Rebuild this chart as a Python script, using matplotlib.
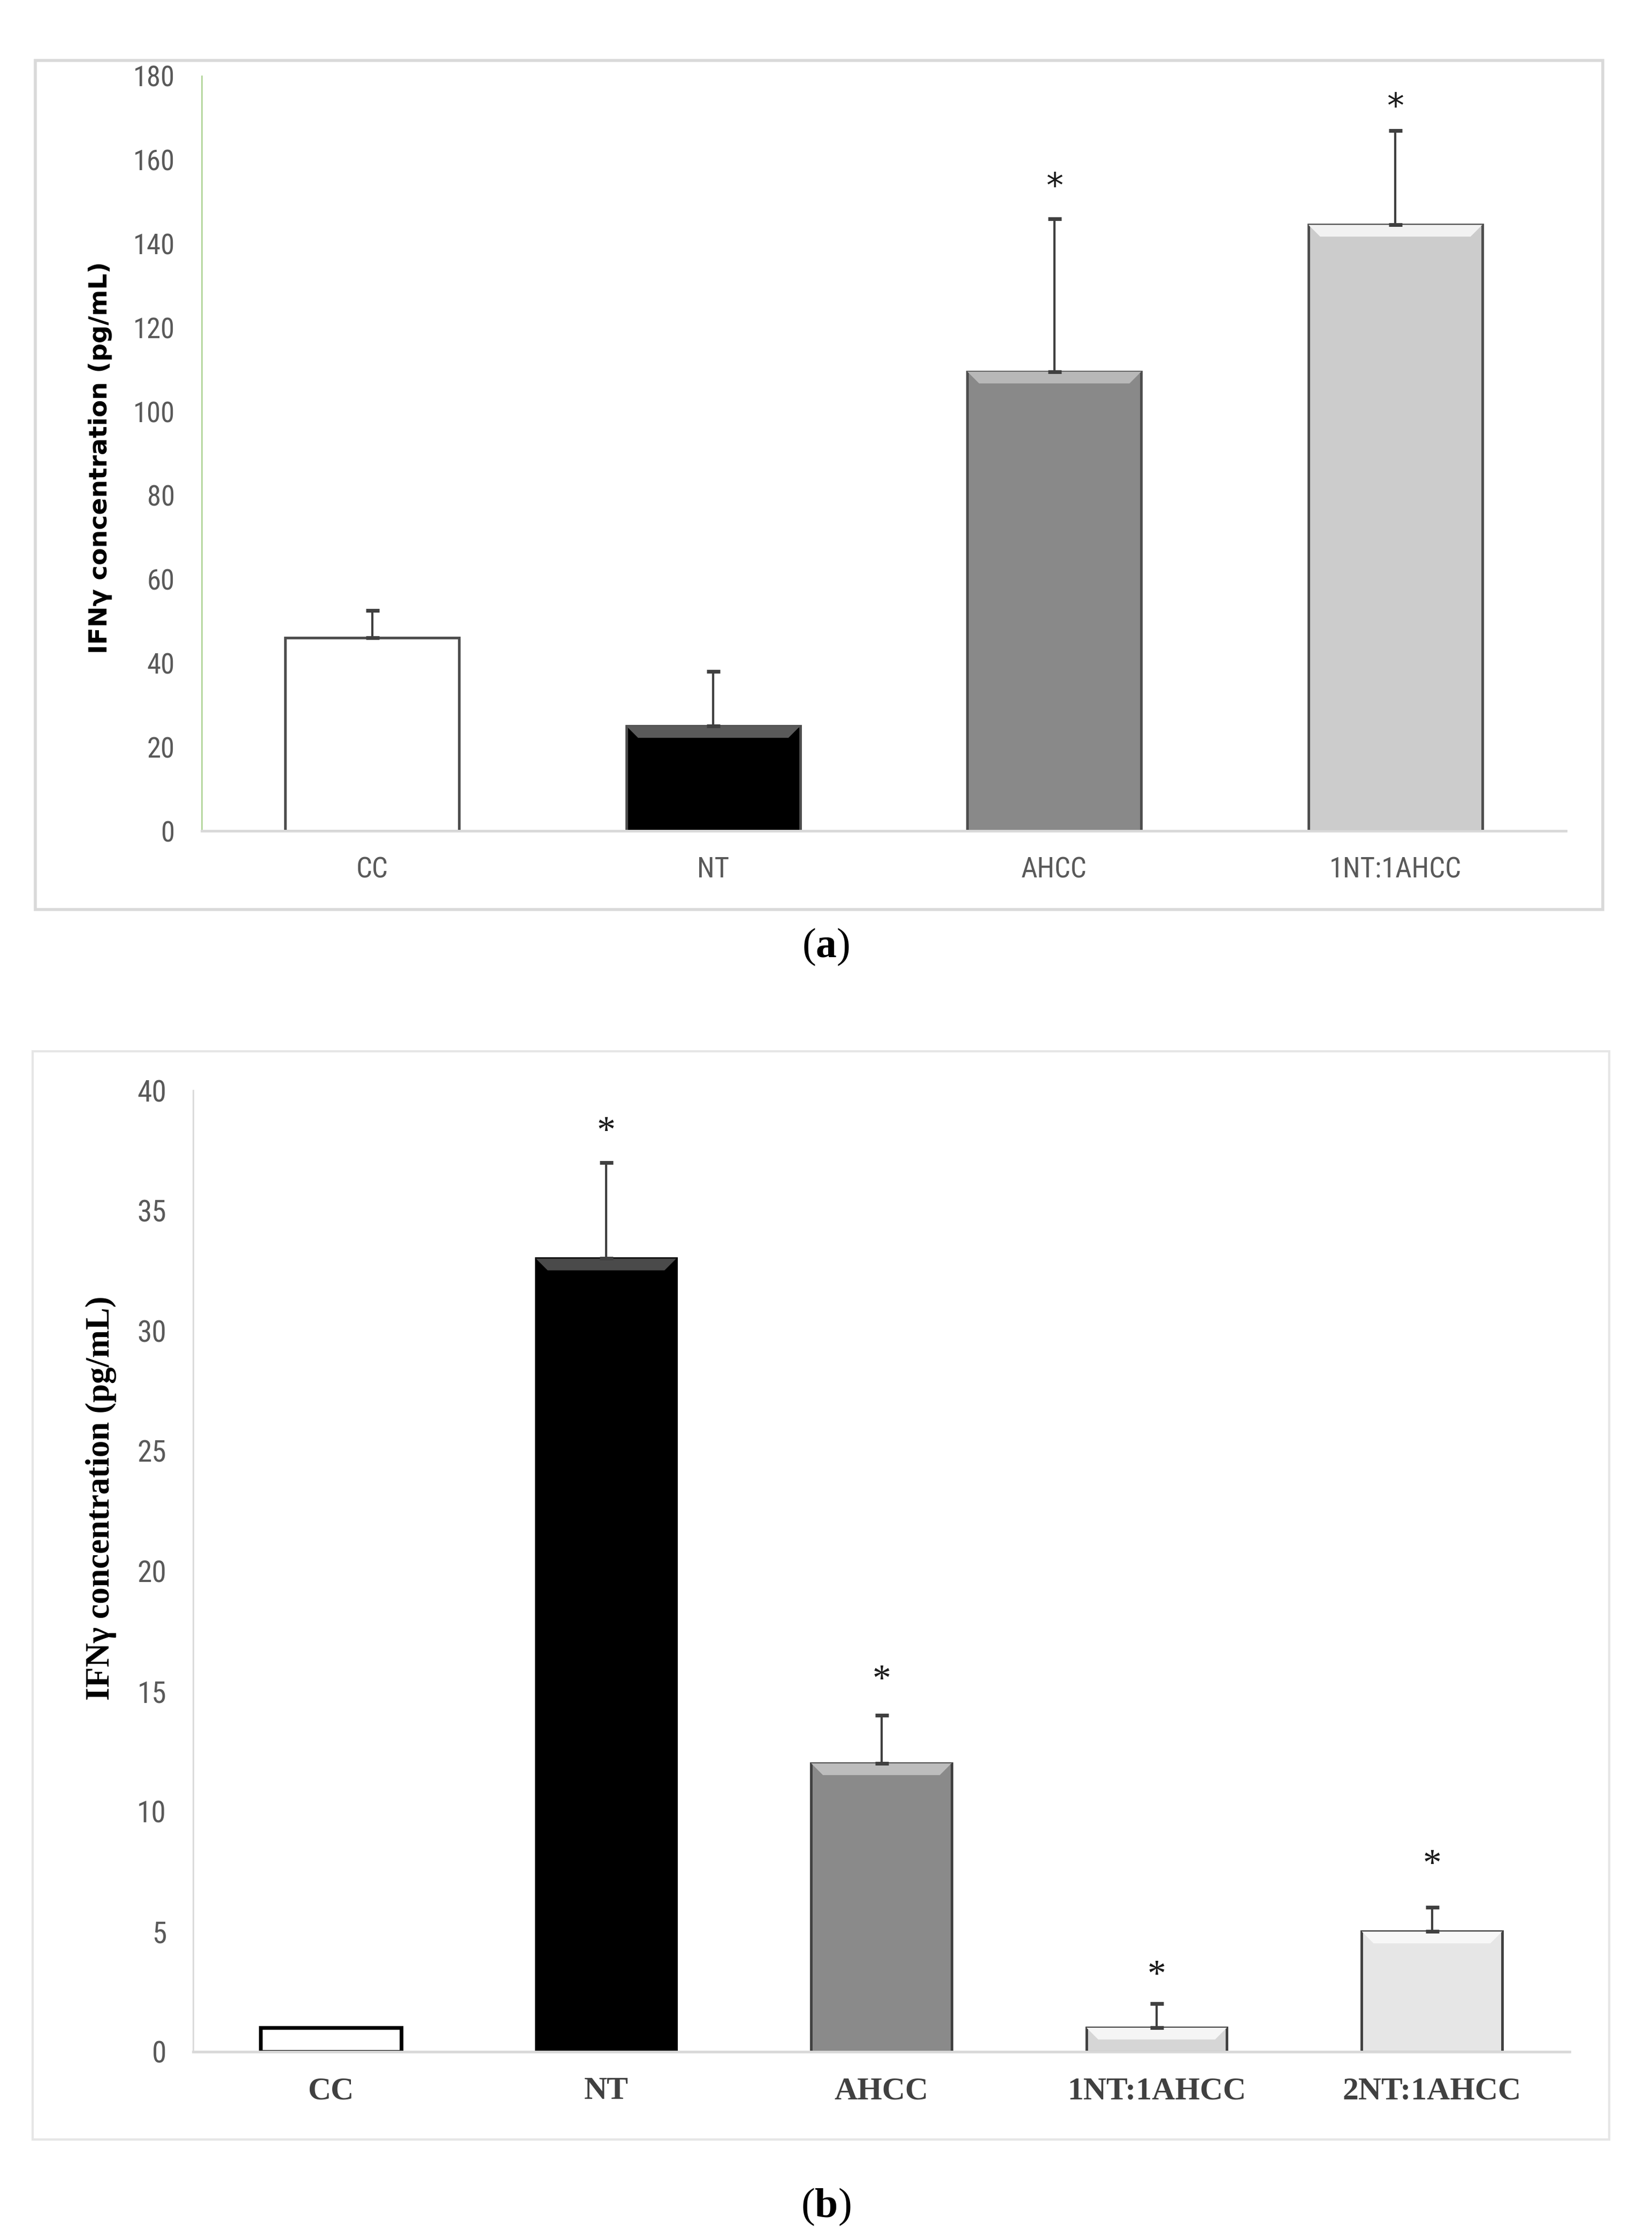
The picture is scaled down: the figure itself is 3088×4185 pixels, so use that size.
import numpy as np
import matplotlib
matplotlib.use("Agg")
import matplotlib.pyplot as plt
from matplotlib import font_manager
from matplotlib.patches import Rectangle, Polygon

# panel (a)
groups_a = ["CC", "NT", "AHCC", "1NT:1AHCC"]
ifn_a = [46, 25, 109.5, 144.5]
err_a = [6.5, 13, 36.5, 22.5]
star_a = [None, None, 156, 175]
colors_a = ["#ffffff", "#000000", "#898989", "#cccccc"]
bevel_a = ["#ffffff", "#5a5a5a", "#b8b8b8", "#f2f2f2"]

# panel (b)
groups_b = ["CC", "NT", "AHCC", "1NT:1AHCC", "2NT:1AHCC"]
ifn_b = [1, 33, 12, 1, 5]
err_b = [0, 4, 2, 1, 1]
star_b = [None, 38.6, 15.8, 3.5, 8.1]
colors_b = ["#ffffff", "#000000", "#8a8a8a", "#d6d6d6", "#e6e6e6"]
bevel_b = ["#ffffff", "#4a4a4a", "#bdbdbd", "#f5f5f5", "#f7f7f7"]


def pick(names):
    for n in names:
        try:
            font_manager.findfont(font_manager.FontProperties(family=n), fallback_to_default=False)
            return n
        except Exception:
            pass
    return "DejaVu Sans"

narrow = pick(["Liberation Sans Narrow", "Roboto Condensed", "Liberation Sans"])
serif = pick(["Liberation Serif", "DejaVu Serif"])

plt.rcParams["mathtext.fontset"] = "custom"
plt.rcParams["mathtext.rm"] = serif
plt.rcParams["mathtext.bf"] = serif + ":bold"

W, H = 3088, 4185
fig = plt.figure(figsize=(W / 100, H / 100), dpi=100)


def fx(px):
    return px / W


def fy(py):
    return 1 - py / H


def frame(x0, y0, x1, y1, col, lw):
    fig.patches.append(Rectangle((fx(x0), fy(y1)), fx(x1 - x0), fy(y0) - fy(y1),
                                 transform=fig.transFigure, fill=False,
                                 edgecolor=col, linewidth=lw, zorder=0))


def add_bevel(ax, bars, cols, depth=22):
    fig.canvas.draw()
    t = ax.transData
    for b, c in zip(bars, cols):
        x0, w, h = b.get_x(), b.get_width(), b.get_height()
        (px0, py0) = t.transform((x0, h))
        (px1, _) = t.transform((x0 + w, h))
        (_, pyb) = t.transform((x0, 0))
        d = min(depth, (py0 - pyb) * 0.5)
        pts = [(px0, py0), (px1, py0), (px1 - d, py0 - d), (px0 + d, py0 - d)]
        pts = t.inverted().transform(pts)
        ax.add_patch(Polygon(pts, closed=True, facecolor=c, edgecolor="none", zorder=3))


# ---------------- panel (a) ----------------
frame(66, 113, 2996, 1700, "#d9d9d9", 4)
ax1 = fig.add_axes([fx(377), fy(1553), fx(2927 - 377), fy(142) - fy(1553)])
x = np.arange(len(groups_a))
bars = ax1.bar(x, ifn_a, width=0.51, color=colors_a, edgecolor="#4d4d4d",
               linewidth=3.5, zorder=2)
ax1.errorbar(x, ifn_a, yerr=[np.zeros(len(err_a)), err_a], fmt="none",
             ecolor="#404040", elinewidth=3, capsize=9, capthick=5, zorder=4)
ax1.set_xlim(-0.5, 3.5)
ax1.set_ylim(0, 180)
ax1.set_yticks(np.arange(0, 181, 20))
ax1.set_xticks(x)
ax1.set_xticklabels(groups_a)
for s in ["top", "right"]:
    ax1.spines[s].set_visible(False)
ax1.spines["left"].set_color("#a9d18e")
ax1.spines["left"].set_linewidth(1.8)
ax1.spines["bottom"].set_color("#d9d9d9")
ax1.spines["bottom"].set_linewidth(3.5)
ax1.tick_params(length=0, labelcolor="#595959")
ax1.tick_params(axis="y", pad=36)
ax1.tick_params(axis="x", pad=34)
for lab in ax1.get_yticklabels() + ax1.get_xticklabels():
    lab.set_family(narrow)
    lab.set_fontsize(38)
add_bevel(ax1, bars[1:], bevel_a[1:])
for xi, sy in zip(x, star_a):
    if sy is not None:
        ax1.annotate("*", (xi, sy), xytext=(0, -27), textcoords="offset points",
                     ha="center", va="baseline", fontsize=46, color="#1a1a1a")
fig.text(fx(188), fy(855), "IFN\u03b3 concentration (pg/mL)", rotation=90,
         ha="center", va="center", fontsize=34, fontweight="bold", color="#000000")
fig.text(fx(1544), fy(1770), r"($\mathbf{a}$)", ha="center", va="center",
         fontsize=56, family=serif)

# ---------------- panel (b) ----------------
frame(61, 1965, 3008, 3999, "#e6e6e6", 3)
ax2 = fig.add_axes([fx(361), fy(3835), fx(2934 - 361), fy(2038) - fy(3835)])
x = np.arange(len(groups_b))
bars = ax2.bar(x, ifn_b, width=0.51, color=colors_b, edgecolor="#404040",
               linewidth=3.5, zorder=2)
bars[0].set_edgecolor("#000000")
bars[0].set_linewidth(5)
bars[1].set_edgecolor("#000000")
ax2.errorbar(x[1:], ifn_b[1:], yerr=[np.zeros(len(err_b) - 1), err_b[1:]], fmt="none",
             ecolor="#404040", elinewidth=3, capsize=9, capthick=5, zorder=4)
ax2.set_xlim(-0.5, 4.5)
ax2.set_ylim(0, 40)
ax2.set_yticks(np.arange(0, 41, 5))
ax2.set_xticks(x)
ax2.set_xticklabels(groups_b)
for s in ["top", "right"]:
    ax2.spines[s].set_visible(False)
ax2.spines["left"].set_color("#d9d9d9")
ax2.spines["left"].set_linewidth(2)
ax2.spines["bottom"].set_color("#d9d9d9")
ax2.spines["bottom"].set_linewidth(3.5)
ax2.tick_params(length=0)
ax2.tick_params(axis="y", pad=36, labelcolor="#595959")
ax2.tick_params(axis="x", pad=34, labelcolor="#404040")
for lab in ax2.get_yticklabels():
    lab.set_family(narrow)
    lab.set_fontsize(40)
for lab in ax2.get_xticklabels():
    lab.set_family(serif)
    lab.set_fontsize(43)
    lab.set_fontweight("bold")
add_bevel(ax2, bars[1:], bevel_b[1:])
for xi, sy in zip(x, star_b):
    if sy is not None:
        ax2.annotate("*", (xi, sy), xytext=(0, -24), textcoords="offset points",
                     ha="center", va="baseline", fontsize=50, family=serif, color="#1a1a1a")
fig.text(fx(189), fy(2800), "IFN\u03b3 concentration (pg/mL)", rotation=90,
         ha="center", va="center", fontsize=45, fontweight="bold", family=serif,
         color="#000000")
fig.text(fx(1544), fy(4125), r"($\mathbf{b}$)", ha="center", va="center",
         fontsize=56, family=serif)

fig.savefig("out.png", dpi=100)
plt.close("all")
